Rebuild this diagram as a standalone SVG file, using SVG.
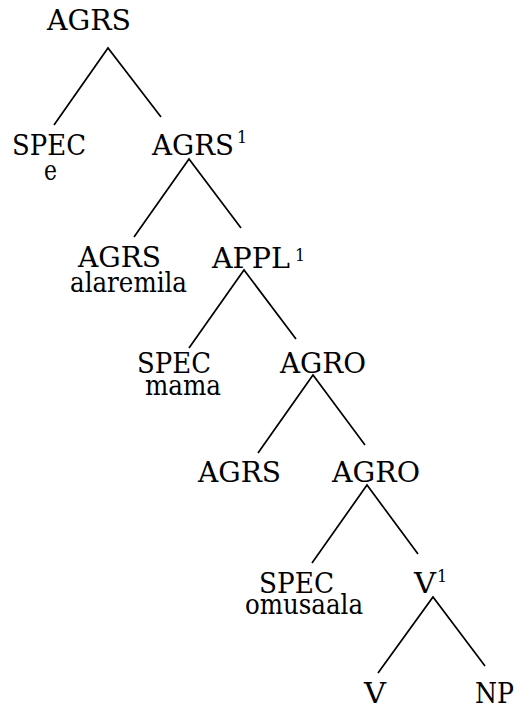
<svg xmlns="http://www.w3.org/2000/svg" width="517" height="711" viewBox="0 0 517 711">
<style>
text{font-family:'DejaVu Serif','Liberation Serif',serif;font-size:28px;fill:#000}
.sup{font-size:16px}
.edge{stroke:#000;stroke-width:1.7;fill:none}
</style>
<rect width="517" height="711" fill="#fff"/>
<g id="connectors">
<path class="edge" d="M54,125 L108,48 L161,117"/>
<path class="edge" d="M134,237 L189,159 L241,228"/>
<path class="edge" d="M189,348 L244,270 L296,339"/>
<path class="edge" d="M258,453 L313,375 L365,445"/>
<path class="edge" d="M312,563 L367,485 L418,554"/>
<path class="edge" d="M378,673 L433,597 L485,666"/>
</g>
<g id="n-agrs-root"><text x="47" y="30" textLength="84" lengthAdjust="spacingAndGlyphs">AGRS</text></g>
<g id="n-spec-e"><text x="12" y="155" textLength="74" lengthAdjust="spacingAndGlyphs">SPEC</text><text x="44" y="180" textLength="13" lengthAdjust="spacingAndGlyphs">e</text></g>
<g id="n-agrs1"><text x="152" y="155" textLength="82" lengthAdjust="spacingAndGlyphs">AGRS</text><text class="sup" x="237" y="143">1</text></g>
<g id="n-agrs-alaremila"><text x="78" y="267" textLength="83" lengthAdjust="spacingAndGlyphs">AGRS</text><text x="70" y="292" textLength="117" lengthAdjust="spacingAndGlyphs">alaremila</text></g>
<g id="n-appl1"><text x="212" y="268" textLength="78" lengthAdjust="spacingAndGlyphs">APPL</text><text class="sup" x="295" y="261">1</text></g>
<g id="n-spec-mama"><text x="137" y="373" textLength="74" lengthAdjust="spacingAndGlyphs">SPEC</text><text x="145" y="395" textLength="76" lengthAdjust="spacingAndGlyphs">mama</text></g>
<g id="n-agro1"><text x="280" y="373" textLength="86" lengthAdjust="spacingAndGlyphs">AGRO</text></g>
<g id="n-agrs3"><text x="198" y="482" textLength="83" lengthAdjust="spacingAndGlyphs">AGRS</text></g>
<g id="n-agro2"><text x="332" y="482" textLength="88" lengthAdjust="spacingAndGlyphs">AGRO</text></g>
<g id="n-spec-omusaala"><text x="259" y="593" textLength="75" lengthAdjust="spacingAndGlyphs">SPEC</text><text x="245" y="614" textLength="118" lengthAdjust="spacingAndGlyphs">omusaala</text></g>
<g id="n-v1"><text x="414" y="593" textLength="22" lengthAdjust="spacingAndGlyphs">V</text><text class="sup" x="437" y="582">1</text></g>
<g id="n-v"><text x="364" y="703" textLength="22" lengthAdjust="spacingAndGlyphs">V</text></g>
<g id="n-np"><text x="475" y="703" textLength="39" lengthAdjust="spacingAndGlyphs">NP</text></g>
</svg>
